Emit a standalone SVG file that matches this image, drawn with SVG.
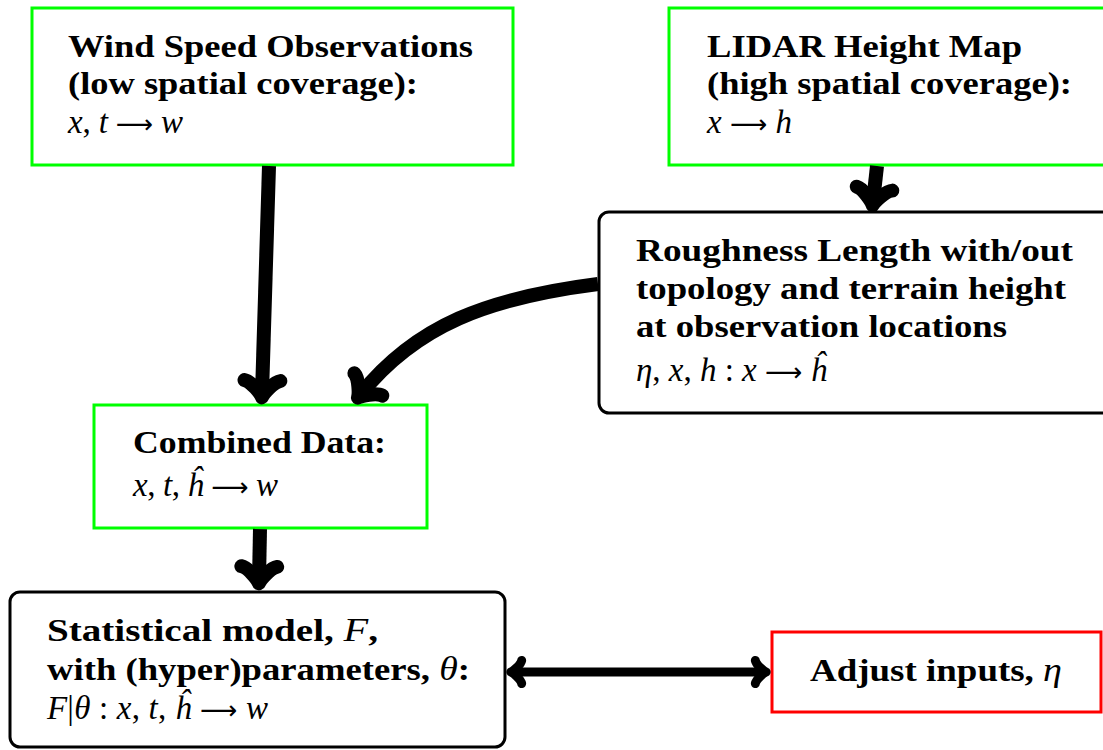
<svg xmlns="http://www.w3.org/2000/svg" width="1103" height="750" viewBox="0 0 1103 750">
  <style>
    .box { fill: #ffffff; stroke-width: 3; }
    .data { stroke: #00ff00; }
    .proc { stroke: #000000; }
    .adj { stroke: #ff0000; }
    text { font-family: "Liberation Serif", "Times New Roman", serif; font-size: 32px; fill: #000000; }
    .b { font-weight: bold; }
    .m { font-style: italic; font-weight: normal; font-size: 33px; }
    .u { font-style: normal; font-weight: normal; }
    .ar { font-family: "DejaVu Sans", sans-serif; font-style: normal; font-weight: normal; font-size: 26px; }
    .link { fill: none; stroke: #000000; stroke-linecap: butt; }
    .thick { stroke-width: 14; }
    .mid { stroke-width: 9; }
  </style>
  <defs>
    <!-- curved "to" style arrowhead, sized in units of the line width -->
    <marker id="to" viewBox="-2 -2 4 4" markerWidth="4" markerHeight="4" refX="0" refY="0"
            orient="auto-start-reverse" markerUnits="strokeWidth" overflow="visible">
      <path d="M-0.96,1.28 C-0.88,0.8 0,0.08 0.24,0 C0,-0.08 -0.88,-0.8 -0.96,-1.28"
            fill="none" stroke="#000000" stroke-width="1" stroke-linecap="round" stroke-linejoin="round"/>
    </marker>
  </defs>

  <g id="wind-obs">
    <rect class="box data" x="32" y="8" width="481" height="157"/>
    <text class="b" x="68" y="57" textLength="405" lengthAdjust="spacingAndGlyphs">Wind Speed Observations</text>
    <text class="b" x="68" y="94" textLength="350" lengthAdjust="spacingAndGlyphs">(low spatial coverage):</text>
    <text class="m" x="68" y="133" textLength="115" lengthAdjust="spacing">x<tspan class="u">, </tspan>t<tspan class="ar"> ⟶ </tspan>w</text>
  </g>

  <g id="lidar">
    <rect class="box data" x="669" y="8" width="450" height="157"/>
    <text class="b" x="707" y="57" textLength="315" lengthAdjust="spacingAndGlyphs">LIDAR Height Map</text>
    <text class="b" x="707" y="94" textLength="365" lengthAdjust="spacingAndGlyphs">(high spatial coverage):</text>
    <text class="m" x="707" y="133" textLength="85" lengthAdjust="spacing">x<tspan class="ar"> ⟶ </tspan>h</text>
  </g>

  <g id="roughness">
    <rect class="box proc" x="599" y="212" width="520" height="201" rx="10" ry="10"/>
    <text class="b" x="636" y="261" textLength="437" lengthAdjust="spacingAndGlyphs">Roughness Length with/out</text>
    <text class="b" x="636" y="299" textLength="430" lengthAdjust="spacingAndGlyphs">topology and terrain height</text>
    <text class="b" x="636" y="337" textLength="371" lengthAdjust="spacingAndGlyphs">at observation locations</text>
    <text class="m" x="636" y="381" textLength="191" lengthAdjust="spacing">η<tspan class="u">, </tspan>x<tspan class="u">, </tspan>h<tspan class="u"> : </tspan>x<tspan class="ar"> ⟶ </tspan>ĥ</text>
  </g>

  <g id="combined">
    <rect class="box data" x="94" y="405" width="333" height="123"/>
    <text class="b" x="133" y="453" textLength="253" lengthAdjust="spacingAndGlyphs">Combined Data:</text>
    <text class="m" x="133" y="496" textLength="145" lengthAdjust="spacing">x<tspan class="u">, </tspan>t<tspan class="u">, </tspan>ĥ<tspan class="ar"> ⟶ </tspan>w</text>
  </g>

  <g id="model">
    <rect class="box proc" x="10" y="592" width="495" height="155" rx="10" ry="10"/>
    <text class="b" x="47" y="641" textLength="331" lengthAdjust="spacingAndGlyphs">Statistical model, <tspan class="m">F</tspan>,</text>
    <text class="b" x="47" y="680" textLength="423" lengthAdjust="spacingAndGlyphs">with (hyper)parameters, <tspan class="m">θ</tspan>:</text>
    <text class="m" x="47" y="719" textLength="221" lengthAdjust="spacing">F<tspan class="u">|</tspan>θ<tspan class="u"> : </tspan>x<tspan class="u">, </tspan>t<tspan class="u">, </tspan>ĥ<tspan class="ar"> ⟶ </tspan>w</text>
  </g>

  <g id="adjust">
    <rect class="box adj" x="772" y="632" width="329" height="80"/>
    <text class="b" x="810" y="681" textLength="252" lengthAdjust="spacingAndGlyphs">Adjust inputs, <tspan class="m">η</tspan></text>
  </g>

  <g id="connectors">
    <path class="link thick" d="M269,166 L262,394" marker-end="url(#to)"/>
    <path class="link thick" d="M877,166 L873,202" marker-end="url(#to)"/>
    <path class="link thick" d="M598,284 C488,298 416,325 360,395" marker-end="url(#to)"/>
    <path class="link thick" d="M260,529 L259,580" marker-end="url(#to)"/>
    <path class="link mid" d="M513,672 L764,672" marker-start="url(#to)" marker-end="url(#to)"/>
  </g>
</svg>
